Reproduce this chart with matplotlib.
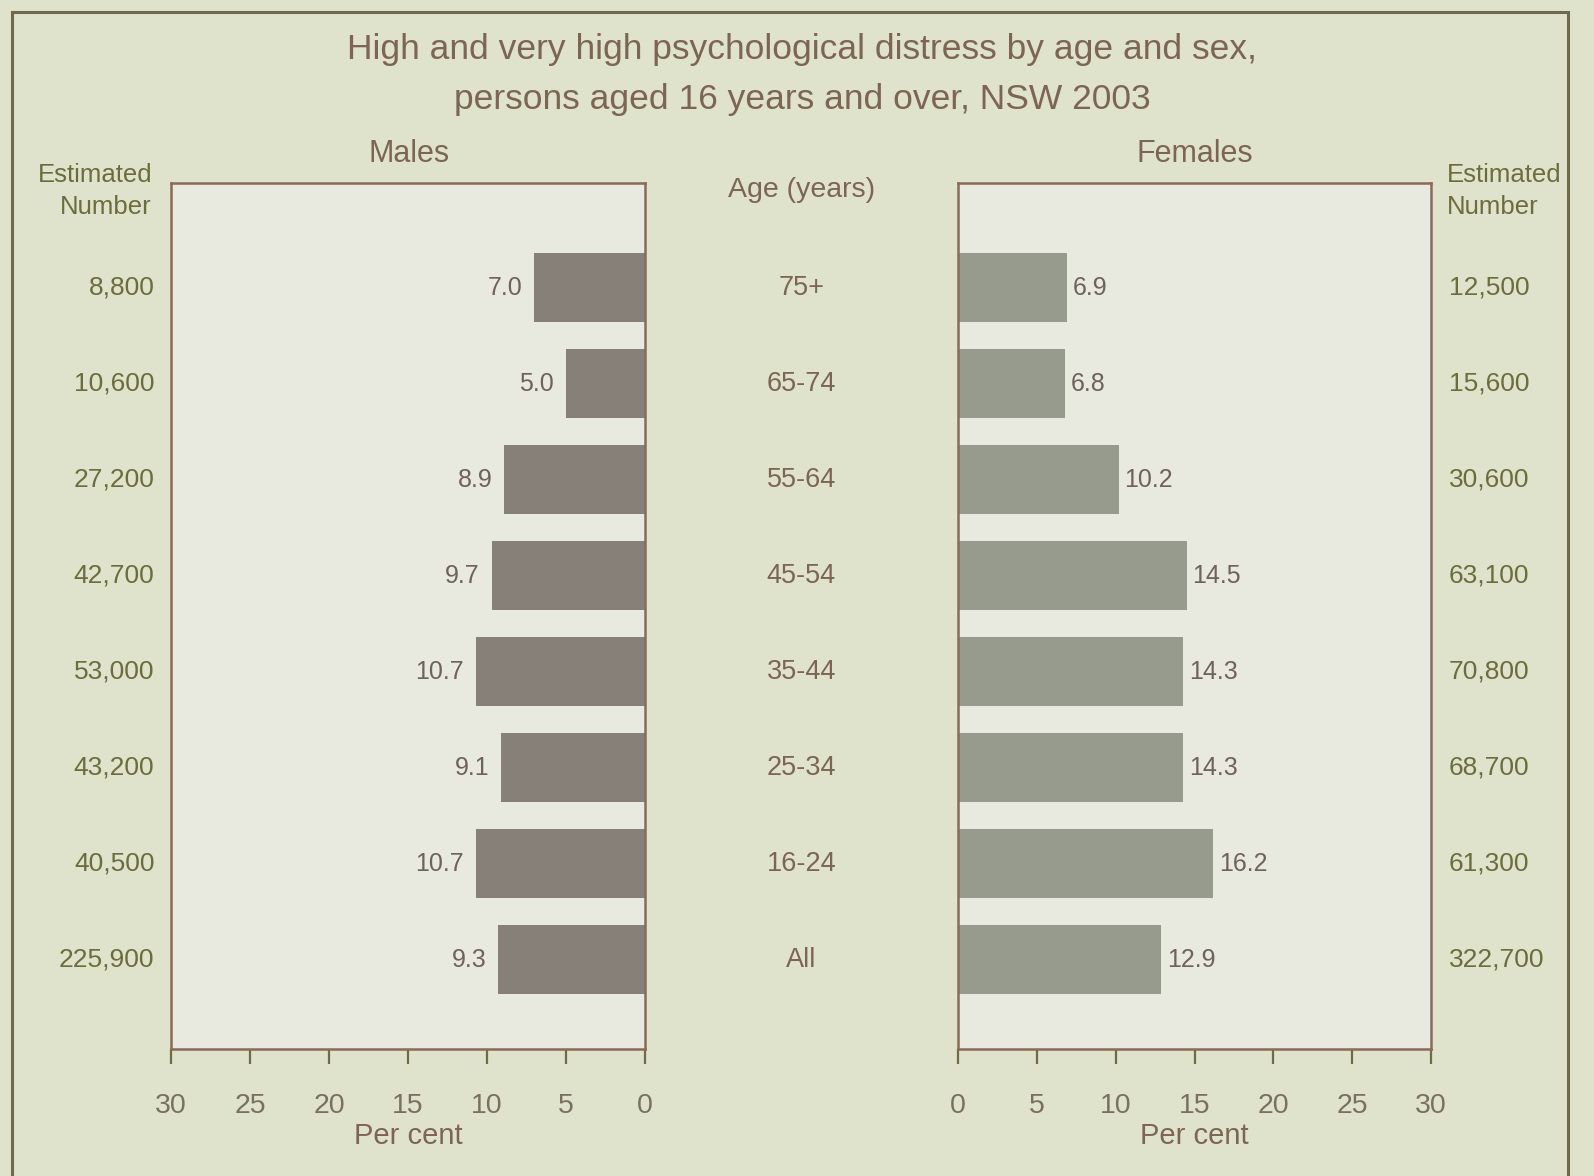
import numpy as np
import matplotlib
matplotlib.use("Agg")
import matplotlib.pyplot as plt
from matplotlib.patches import Rectangle

plt.rcParams["font.family"] = ["Liberation Sans", "DejaVu Sans"]

ages = ["75+", "65-74", "55-64", "45-54", "35-44", "25-34", "16-24", "All"]
males_pct = [7.0, 5.0, 8.9, 9.7, 10.7, 9.1, 10.7, 9.3]
females_pct = [6.9, 6.8, 10.2, 14.5, 14.3, 14.3, 16.2, 12.9]
males_num = ["8,800", "10,600", "27,200", "42,700", "53,000", "43,200", "40,500", "225,900"]
females_num = ["12,500", "15,600", "30,600", "63,100", "70,800", "68,700", "61,300", "322,700"]
xticks = [0, 5, 10, 15, 20, 25, 30]

bg = "#dfe3cb"
panel_bg = "#e8e9df"
frame_col = "#8a6a58"
title_col = "#7c6553"
olive = "#6c6d3c"
label_col = "#6f6258"
male_col = "#878078"
female_col = "#969b8e"

W, H = 1594, 1176
fig = plt.figure(figsize=(W / 100, H / 100), dpi=100, facecolor=bg)

def fx(px):
    return px / W

def fy(py):
    return 1 - py / H

# outer frame
fig.patches.append(Rectangle((fx(12), fy(1190)), fx(1568) - fx(12), fy(12) - fy(1190),
                             transform=fig.transFigure, fill=False,
                             edgecolor="#6f6a4a", linewidth=2.2))

ypos = np.arange(len(ages))
ax_m = fig.add_axes([fx(171), fy(1049), fx(645) - fx(171), fy(183) - fy(1049)])
ax_f = fig.add_axes([fx(958), fy(1049), fx(1431) - fx(958), fy(183) - fy(1049)])

for ax in (ax_m, ax_f):
    ax.set_facecolor(panel_bg)
    for s in ax.spines.values():
        s.set_color(frame_col)
        s.set_linewidth(1.8)
    ax.set_ylim(7.93, -1.09)
    ax.set_yticks([])
    ax.set_xticks(xticks)
    ax.tick_params(axis="x", direction="out", length=11, width=1.6, color="#6f6a4a",
                   pad=21, labelsize=20.5, labelcolor="#7a7060")
    ax.set_xlabel("Per cent", fontsize=21, color=title_col, labelpad=2)

ax_m.set_xlim(30, 0)
ax_f.set_xlim(0, 30)

ax_m.barh(ypos, males_pct, height=0.72, color=male_col)
ax_f.barh(ypos, females_pct, height=0.72, color=female_col)

for y, v in zip(ypos, males_pct):
    ax_m.text(v + 0.75, y, f"{v:.1f}", ha="right", va="center", fontsize=18, color=label_col)
for y, v in zip(ypos, females_pct):
    ax_f.text(v + 0.35, y, f"{v:.1f}", ha="left", va="center", fontsize=18, color=label_col)

# estimated numbers either side, age groups in the middle
trans_m = ax_m.get_yaxis_transform()
trans_f = ax_f.get_yaxis_transform()
for y, n in zip(ypos, males_num):
    ax_m.text(-0.035, y, n, transform=trans_m, ha="right", va="center", fontsize=19, color=olive)
for y, n in zip(ypos, females_num):
    ax_f.text(1.037, y, n, transform=trans_f, ha="left", va="center", fontsize=19, color=olive)
for y, a in zip(ypos, ages):
    ax_m.text(1.33, y, a, transform=trans_m, ha="center", va="center", fontsize=19.5, color=title_col)

fig.text(fx(152), fy(175), "Estimated", ha="right", va="center", fontsize=18.5, color=olive)
fig.text(fx(152), fy(207), "Number", ha="right", va="center", fontsize=18.5, color=olive)
fig.text(fx(1447), fy(175), "Estimated", ha="left", va="center", fontsize=18.5, color=olive)
fig.text(fx(1447), fy(207), "Number", ha="left", va="center", fontsize=18.5, color=olive)
fig.text(fx(802), fy(190), "Age (years)", ha="center", va="center", fontsize=20.5, color=title_col)

fig.text(fx(409), fy(154), "Males", ha="center", va="center", fontsize=22, color=title_col)
fig.text(fx(1195), fy(154), "Females", ha="center", va="center", fontsize=22, color=title_col)

fig.text(fx(802), fy(49), "High and very high psychological distress by age and sex,",
         ha="center", va="center", fontsize=25.5, color=title_col)
fig.text(fx(802), fy(99), "persons aged 16 years and over, NSW 2003",
         ha="center", va="center", fontsize=25.5, color=title_col)

fig.savefig("out.png", dpi=100, facecolor=bg)
